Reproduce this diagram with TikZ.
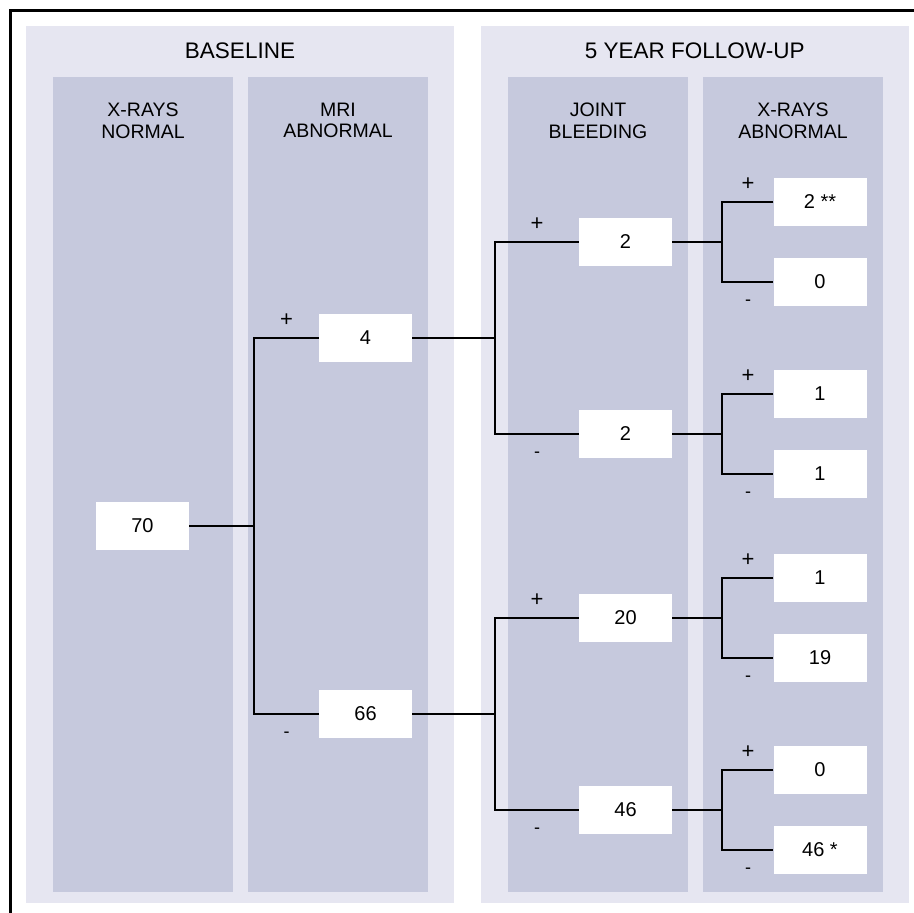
\documentclass[tikz,border=0pt]{standalone}
\usepackage{fontspec}
\setmainfont{Liberation Sans}
\definecolor{panelbg}{RGB}{230,230,241}
\definecolor{colbg}{RGB}{198,201,221}
\begin{document}
\begin{tikzpicture}[x=1pt,y=-1pt,
  panel/.style={fill=panelbg,draw=none},
  column/.style={fill=colbg,draw=none},
  box/.style={fill=white,draw=none,minimum width=93pt,minimum height=48pt,inner sep=0pt,font=\fontsize{20}{24}\selectfont},
  conn/.style={line width=2pt,draw=black},
  title/.style={inner sep=0pt,font=\fontsize{22.5}{26}\selectfont},
  head/.style={inner sep=0pt,align=center,font=\fontsize{19.5}{21.7}\selectfont},
  plussign/.style={inner sep=0pt,font=\fontsize{22}{26}\selectfont},
  minussign/.style={inner sep=0pt,font=\fontsize{18}{22}\selectfont}]
\useasboundingbox (0,0) rectangle (914,913);
\fill[white] (0,0) rectangle (914,913);
% outer frame
\draw[line width=3pt] (10.5,913) -- (10.5,10.5) -- (914,10.5);
% panels
\fill[panel] (26,26) rectangle (454,903);
\fill[panel] (481,26) rectangle (908.5,903);
\fill[column] (53,77) rectangle (233,892);
\fill[column] (248,77) rectangle (428,892);
\fill[column] (508,77) rectangle (688,892);
\fill[column] (703,77) rectangle (883,892);
% titles
\node[title] (tbase) at (240,51.2) {BASELINE};
\node[title] (tfollow) at (694.75,51.2) {5 YEAR FOLLOW-UP};
\node[head] (h1) at (143,120.5) {X-RAYS\\NORMAL};
\node[head] (h2) at (338,120.5) {MRI\\ABNORMAL};
\node[head] (h3) at (598,120.5) {JOINT\\BLEEDING};
\node[head] (h4) at (793,120.5) {X-RAYS\\ABNORMAL};
% boxes
\node[box] (n70) at (142.5,526) {70};
\node[box] (n4) at (365.5,338) {4};
\node[box] (n66) at (365.5,714) {66};
\node[box] (j1) at (625.5,242) {2};
\node[box] (j2) at (625.5,434) {2};
\node[box] (j3) at (625.5,618) {20};
\node[box] (j4) at (625.5,810) {46};
\node[box] (x1) at (820,202) {2 **};
\node[box] (x2) at (820,282) {0};
\node[box] (x3) at (820,394) {1};
\node[box] (x4) at (820,474) {1};
\node[box] (x5) at (820,578) {1};
\node[box] (x6) at (820,658) {19};
\node[box] (x7) at (820,770) {0};
\node[box] (x8) at (820,850) {46 *};
% branch points
\coordinate (b0) at (254,526);
\coordinate (b1) at (495,338);
\coordinate (b2) at (495,714);
\coordinate (c1) at (722,242);
\coordinate (c2) at (722,434);
\coordinate (c3) at (722,618);
\coordinate (c4) at (722,810);
% connectors
\draw[conn] (n70.east) -- (b0);
\draw[conn] (n4.west) -| (b0) |- (n66.west);
\draw[conn] (n4.east) -- (b1);
\draw[conn] (j1.west) -| (b1) |- (j2.west);
\draw[conn] (n66.east) -- (b2);
\draw[conn] (j3.west) -| (b2) |- (j4.west);
\draw[conn] (j1.east) -- (c1);
\draw[conn] (x1.west) -| (c1) |- (x2.west);
\draw[conn] (j2.east) -- (c2);
\draw[conn] (x3.west) -| (c2) |- (x4.west);
\draw[conn] (j3.east) -- (c3);
\draw[conn] (x5.west) -| (c3) |- (x6.west);
\draw[conn] (j4.east) -- (c4);
\draw[conn] (x7.west) -| (c4) |- (x8.west);
% signs
\node[plussign] (p0) at (286.5,320.5) {+};
\node[minussign] (m0) at (286.5,734.5) {-};
\node[plussign] (p1) at (537,224) {+};
\node[minussign] (m1) at (537,454.5) {-};
\node[plussign] (p2) at (537,600) {+};
\node[minussign] (m2) at (537,830.5) {-};
\node[plussign] (p3) at (748,184) {+};
\node[minussign] (m3) at (748,303) {-};
\node[plussign] (p4) at (748,376) {+};
\node[minussign] (m4) at (748,495) {-};
\node[plussign] (p5) at (748,560) {+};
\node[minussign] (m5) at (748,679) {-};
\node[plussign] (p6) at (748,752) {+};
\node[minussign] (m6) at (748,871) {-};
\end{tikzpicture}
\end{document}
